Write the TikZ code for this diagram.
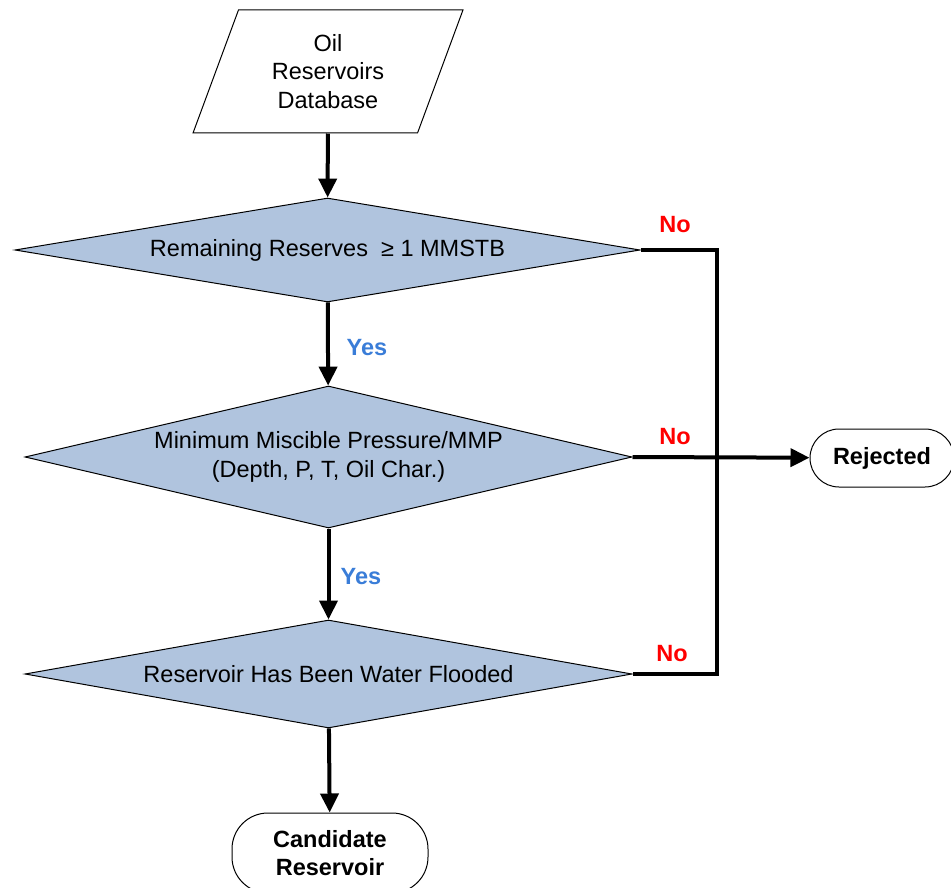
\documentclass[tikz,border=0pt]{standalone}
\usepackage{fontspec}
\setmainfont{Liberation Sans}
\usetikzlibrary{arrows.meta, shapes.geometric}
\definecolor{decfill}{RGB}{176,196,222}
\definecolor{yesblue}{RGB}{58,125,216}
\newcommand{\lblsize}{\fontsize{23.5}{28.5}\selectfont}
\tikzset{>={Triangle[width=18pt,length=19pt]}}
\tikzset{
  database/.style={trapezium, draw, trapezium stretches=true, trapezium left angle=69, trapezium right angle=111, minimum width=270pt, minimum height=123pt, inner sep=0pt, align=center},
  decision/.style={diamond, draw, fill=decfill, aspect=5, inner sep=0pt, align=center},
  terminal/.style={rectangle, draw, align=center, font=\lblsize\bfseries},
  flow/.style={line width=4pt},
  nolabel/.style={text=red, font=\lblsize\bfseries},
  yeslabel/.style={text=yesblue, font=\lblsize\bfseries}
}

\begin{document}
\begin{tikzpicture}[x=1pt, y=-1pt, line width=1pt, font=\lblsize]

            \useasboundingbox (0,0) rectangle (951,888);

            \node[database] (db) at (328,71.5) {Oil\\Reservoirs\\Database};
            \node[decision, minimum width=625pt, minimum height=104pt] (d1) at (327.5,250) {Remaining Reserves\ \ ≥ 1 MMSTB};
            \node[decision, minimum width=607pt, minimum height=142pt] (d2) at (328.5,457) {Minimum Miscible Pressure/MMP\\(Depth, P, T, Oil Char.)};
            \node[decision, minimum width=607pt, minimum height=108pt] (d3) at (328.5,674) {Reservoir Has Been Water Flooded};
            \node[terminal, rounded corners=36pt, minimum width=196pt, minimum height=80pt] (cand) at (330,853) {Candidate\\Reservoir};
            \node[terminal, rounded corners=29pt, minimum width=144pt, minimum height=58pt] (rej) at (882,458) {Rejected};
            \coordinate (bus) at (717,458);

            \draw [flow,->] (db)--(d1);
            \draw [flow,->] (d1)--(d2);
            \draw [flow,->] (d2)--(d3);
            \draw [flow,->] (d3)--(cand);
            \draw [flow] (d1.east) -| (bus) |- (d3.east);
            \draw [flow,->] (d2.east)--(rej);

            \node[yeslabel] (yes1) at (367,348) {Yes};
            \node[yeslabel] (yes2) at (361,577) {Yes};
            \node[nolabel] (no1) at (675,225) {No};
            \node[nolabel] (no2) at (675,437) {No};
            \node[nolabel] (no3) at (672,654) {No};
            \end{tikzpicture}
\end{document}
